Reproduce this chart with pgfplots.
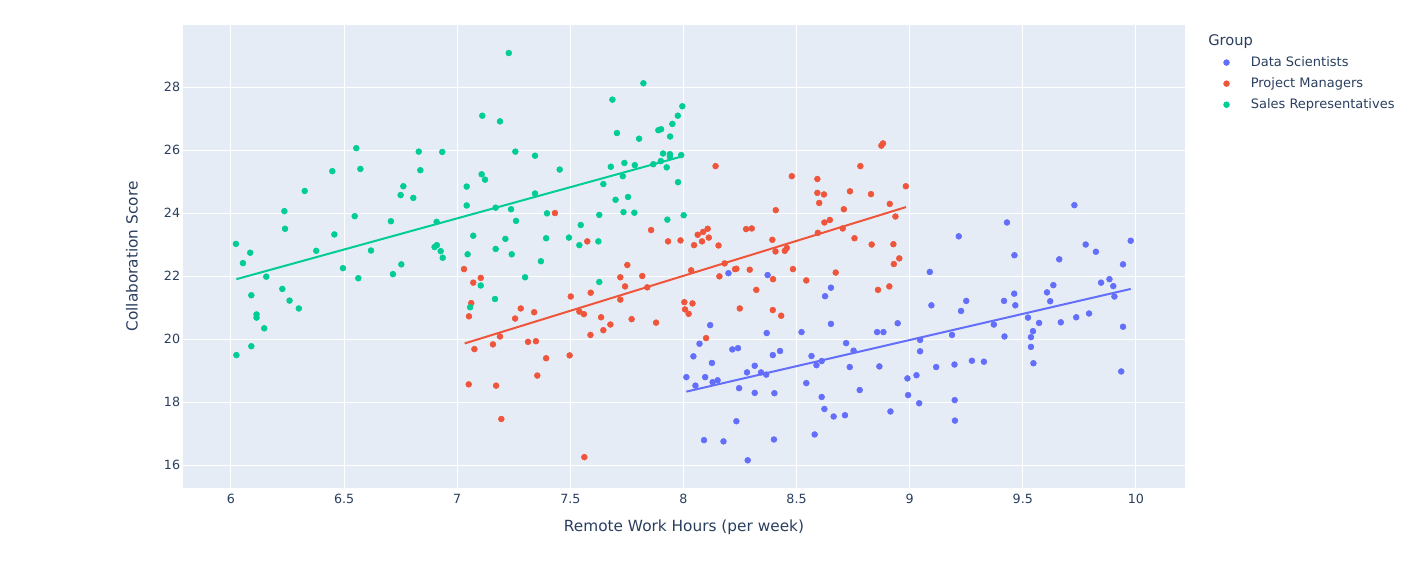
\documentclass[border=0pt]{standalone}
\usepackage{pgfplots}
\pgfplotsset{compat=1.18}
\usepackage{fontspec}
\setmainfont{DejaVu Sans}
\definecolor{bgc}{HTML}{E5ECF6}
\definecolor{tc}{HTML}{2A3F5F}
\definecolor{cds}{HTML}{636EFA}
\definecolor{cpm}{HTML}{EF553B}
\definecolor{csr}{HTML}{00CC96}
\begin{document}
\begin{tikzpicture}
\path[use as bounding box, fill=white] (0,0) rectangle (1067.25pt,422.25pt);
\begin{axis}[
  at={(137.25pt,56.25pt)}, anchor=south west,
  scale only axis, width=751.5pt, height=347.25pt,
  xmin=5.788, xmax=10.217, ymin=15.27, ymax=29.97,
  axis background/.style={fill=bgc},
  axis line style={draw=none},
  tick style={draw=none},
  grid=major,
  major grid style={white, line width=0.75pt},
  xtick={6,6.5,7,7.5,8,8.5,9,9.5,10},
  ytick={16,18,20,22,24,26,28},
  /pgf/number format/assume math mode=true,
  tick label style={font=\fontsize{9.5}{11}\selectfont, text=tc},
  xticklabel style={yshift=-1pt},
  yticklabel style={inner xsep=2pt},
  xlabel={Remote Work Hours (per week)},
  ylabel={Collaboration Score},
  label style={font=\fontsize{11.5}{13}\selectfont, text=tc},
  x label style={at={(axis description cs:0.5,-0.0842)}, anchor=center},
  y label style={at={(axis description cs:-0.0509,0.5)}, anchor=center, rotate=0},
  legend style={at={(axis description cs:1.0369,0.9422)}, anchor=north west,
    draw=none, fill=none, inner sep=0pt, font=\fontsize{9.75}{11}\selectfont, text=tc,
    cells={anchor=west}, row sep=0pt,
    nodes={inner ysep=3.45pt}},
  legend image code/.code={\path (-3pt,0pt) (16pt,0pt); \draw[#1] plot coordinates {(0pt,0pt)};},
  every axis plot/.append style={mark size=2.2pt},
]
% Data Scientists
\addplot[only marks, mark=*, color=cds, mark options={draw=cds, fill=cds, line width=0.4pt}] coordinates {
(8.013,18.79)(8.053,18.52)(8.096,18.79)(8.044,19.45)(8.071,19.85)(8.118,20.44)(8.091,16.79)
(8.199,22.09)(8.372,22.03)(8.652,21.63)(8.626,21.36)(8.652,20.48)(8.947,20.50)(8.368,20.19)
(8.522,20.22)(8.856,20.22)(8.884,20.22)(8.216,19.67)(8.241,19.71)(8.126,19.24)(8.395,19.49)
(8.427,19.62)(8.566,19.46)(8.719,19.87)(8.752,19.63)(8.588,19.17)(8.611,19.30)(8.735,19.11)
(8.866,19.13)(8.129,18.63)(8.151,18.69)(8.281,18.94)(8.315,19.15)(8.343,18.94)(8.366,18.87)
(8.246,18.44)(8.315,18.29)(8.402,18.28)(8.543,18.60)(8.611,18.16)(8.779,18.38)(8.623,17.78)
(8.664,17.54)(8.714,17.58)(8.915,17.70)(8.99,18.75)(8.993,18.22)(9.03,18.85)(9.042,17.96)
(9.046,19.61)(9.046,19.97)(8.234,17.39)(8.177,16.75)(8.40,16.81)(8.58,16.97)(8.284,16.15)
(9.728,24.25)(9.43,23.70)(9.217,23.26)(9.778,23.00)(9.823,22.77)(9.977,23.12)(9.463,22.66)
(9.661,22.53)(9.943,22.37)(9.089,22.13)(9.846,21.79)(9.883,21.90)(9.90,21.68)(9.905,21.35)
(9.635,21.71)(9.607,21.48)(9.621,21.20)(9.462,21.44)(9.417,21.21)(9.467,21.07)(9.25,21.21)
(9.227,20.89)(9.096,21.07)(9.523,20.68)(9.572,20.51)(9.668,20.53)(9.736,20.69)(9.793,20.81)
(9.943,20.39)(9.372,20.46)(9.187,20.13)(9.419,20.08)(9.545,20.25)(9.536,20.06)(9.536,19.75)
(9.547,19.23)(9.117,19.11)(9.198,19.19)(9.275,19.31)(9.328,19.28)(9.935,18.97)(9.199,18.06)
(9.20,17.41)
};
\addlegendentry{Data Scientists}
% Project Managers
\addplot[only marks, mark=*, color=cpm, mark options={draw=cpm, fill=cpm, line width=0.4pt}] coordinates {
(7.432,24.00)(7.575,23.10)(7.857,23.46)(7.932,23.10)(7.987,23.13)(8.047,22.98)(8.063,23.31)
(8.087,23.40)(8.107,23.50)(8.082,23.10)(8.112,23.22)(7.752,22.35)(8.034,22.18)(7.030,22.22)
(7.071,21.79)(7.104,21.94)(7.062,21.14)(7.052,20.72)(7.721,21.96)(7.818,22.00)(7.742,21.67)
(7.840,21.64)(7.59,21.47)(7.502,21.35)(7.721,21.25)(8.004,21.17)(8.04,21.13)(8.007,20.94)
(8.023,20.80)(7.281,20.97)(7.34,20.85)(7.256,20.65)(7.54,20.87)(7.56,20.79)(7.636,20.69)
(7.771,20.63)(7.677,20.46)(7.646,20.28)(7.879,20.52)(7.589,20.13)(7.189,20.08)(7.158,19.83)
(7.076,19.68)(7.313,19.91)(7.348,19.93)(7.393,19.39)(7.497,19.48)(7.354,18.84)(7.051,18.56)
(7.172,18.52)(7.195,17.46)(7.562,16.25)(8.10,20.03)
(8.142,25.49)(8.479,25.17)(8.592,25.08)(8.592,24.64)(8.621,24.59)(8.60,24.32)(8.782,25.49)
(8.875,26.14)(8.882,26.21)(8.736,24.69)(8.829,24.60)(8.983,24.85)(8.912,24.29)(8.937,23.89)
(8.709,24.12)(8.408,24.09)(8.647,23.78)(8.623,23.70)(8.704,23.51)(8.594,23.37)(8.756,23.20)
(8.832,23.00)(8.928,23.01)(8.954,22.56)(8.93,22.38)(8.155,22.97)(8.277,23.49)(8.302,23.51)
(8.393,23.15)(8.407,22.78)(8.448,22.80)(8.457,22.89)(8.182,22.40)(8.228,22.22)(8.234,22.23)
(8.293,22.20)(8.159,21.99)(8.396,21.90)(8.484,22.22)(8.673,22.11)(8.543,21.86)(8.322,21.56)
(8.86,21.56)(8.91,21.67)(8.249,20.97)(8.395,20.92)(8.432,20.74)
};
\addlegendentry{Project Managers}
% Sales Representatives
\addplot[only marks, mark=*, color=csr, mark options={draw=csr, fill=csr, line width=0.4pt}] coordinates {
(6.022,23.02)(6.053,22.41)(6.085,22.74)(6.09,21.39)(6.09,19.77)(6.024,19.49)(6.113,20.78)
(6.113,20.68)(6.147,20.34)(6.156,21.98)(6.227,21.59)(6.236,24.06)(6.239,23.50)(6.259,21.22)
(6.30,20.97)(6.326,24.70)(6.377,22.80)(6.457,23.32)(6.448,25.33)(6.495,22.25)(6.547,23.90)
(6.554,26.06)(6.572,25.40)(6.563,21.93)(6.619,22.81)(6.707,23.74)(6.716,22.06)(6.75,24.57)
(6.762,24.85)(6.753,22.37)(6.806,24.48)(6.83,25.95)(6.837,25.36)(6.909,23.72)(6.90,22.92)
(6.91,22.98)(6.927,22.79)(6.936,22.58)(6.934,25.94)(7.228,29.08)(7.111,27.09)(7.189,26.91)
(7.257,25.95)(7.344,25.82)(7.453,25.38)(7.108,25.23)(7.123,25.06)(7.042,24.84)(7.042,24.24)
(7.17,24.17)(7.238,24.12)(7.344,24.62)(7.26,23.75)(7.397,23.99)(7.071,23.28)(7.213,23.18)
(7.17,22.86)(7.241,22.69)(7.046,22.69)(7.393,23.20)(7.37,22.47)(7.494,23.22)(7.546,23.62)
(7.54,22.98)(7.624,23.10)(7.628,23.94)(7.686,27.60)(7.823,28.12)(7.706,26.54)(7.804,26.36)
(7.889,26.63)(7.901,26.66)(7.941,26.43)(7.951,26.83)(7.975,27.09)(7.995,27.39)(7.91,25.89)
(7.94,25.87)(7.94,25.79)(7.99,25.84)(7.90,25.65)(7.867,25.55)(7.926,25.45)(7.785,25.52)
(7.739,25.59)(7.679,25.47)(7.732,25.17)(7.646,24.92)(7.976,24.98)(7.70,24.42)(7.755,24.51)
(7.735,24.03)(7.783,24.01)(7.929,23.79)(8.001,23.93)(7.104,21.70)(7.30,21.96)(7.628,21.81)
(7.167,21.27)(7.057,21.01)
};
\addlegendentry{Sales Representatives}
% trendlines
\addplot[cds, line width=1.5pt, forget plot] coordinates {(8.013,18.33)(9.977,21.59)};
\addplot[cpm, line width=1.5pt, forget plot] coordinates {(7.033,19.86)(8.984,24.19)};
\addplot[csr, line width=1.5pt, forget plot] coordinates {(6.024,21.90)(7.995,25.80)};
\end{axis}
\node[anchor=west, inner sep=0pt, text=tc, font=\fontsize{11}{13}\selectfont] at (906pt,390.75pt) {Group};
\end{tikzpicture}
\end{document}
